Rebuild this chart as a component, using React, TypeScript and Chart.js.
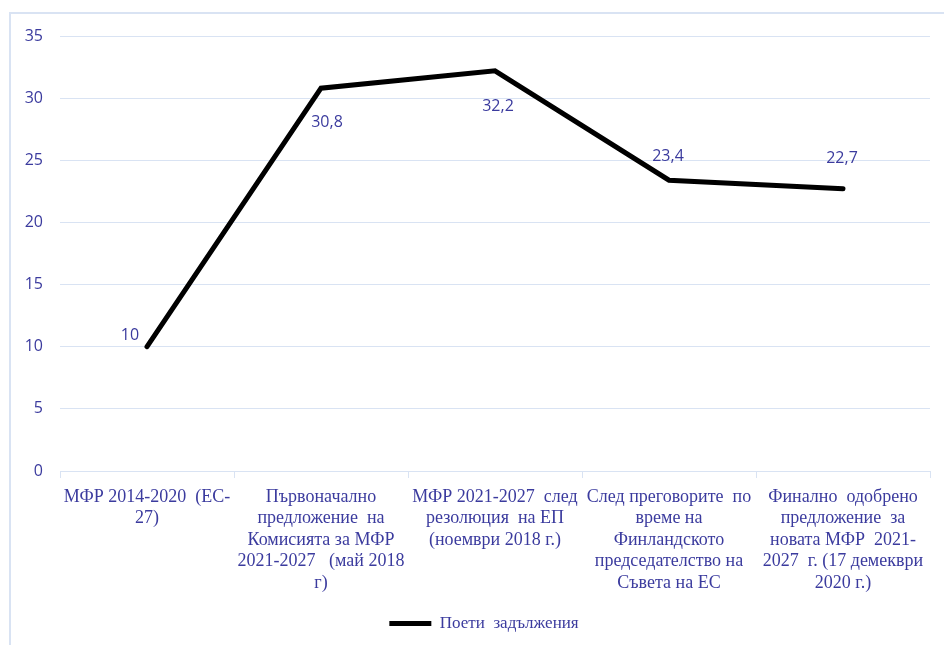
import React, { useEffect, useRef } from "react";
import { Chart, registerables } from "chart.js";

Chart.register(...registerables);

const CATEGORIES: string[][] = [
  ["МФР 2014-2020  (ЕС-", "27)"],
  ["Първоначално", "предложение  на", "Комисията за МФР", "2021-2027   (май 2018", "г)"],
  ["МФР 2021-2027  след", "резолюция  на ЕП", "(ноември 2018 г.)"],
  ["След преговорите  по", "време на", "Финландското", "председателство на", "Съвета на ЕС"],
  ["Финално  одобрено", "предложение  за", "новата МФР  2021-", "2027  г. (17 демекври", "2020 г.)"],
];
const SERIES_NAME = "Поети  задължения";
const VALUES: number[] = [10, 30.8, 32.2, 23.4, 22.7];
const Y_MIN = 0;
const Y_MAX = 35;
const Y_STEP = 5;

// style: data label offsets (px) relative to each point, Excel-like placement
const LABEL_OFFSETS: [number, number][] = [
  [-17, -11],
  [6, 34],
  [3, 36],
  [-1, -24],
  [-1, -30],
];

const TEXT_COLOR = "#3b3b9e";
const GRID_COLOR = "#d9e3f3";
const SANS = "'Open Sans', Lato, sans-serif";
const SERIF = "'Liberation Serif', 'DejaVu Serif', serif";

const dataLabels = {
  id: "dataLabels",
  afterDatasetsDraw(chart: any) {
    const ctx = chart.ctx;
    const meta = chart.getDatasetMeta(0);
    const data = chart.data.datasets[0].data as number[];
    ctx.save();
    ctx.font = `16px ${SANS}`;
    ctx.fillStyle = TEXT_COLOR;
    ctx.textAlign = "center";
    ctx.textBaseline = "middle";
    meta.data.forEach((pt: any, i: number) => {
      const off = LABEL_OFFSETS[i] || [0, -20];
      ctx.fillText(String(data[i]).replace(".", ","), pt.x + off[0], pt.y + off[1]);
    });
    ctx.restore();
  },
};

// center the legend under the plot region rather than the whole canvas
const legendShift = {
  id: "legendShift",
  afterLayout(chart: any) {
    const lg = chart.legend;
    if (lg) {
      lg.left = 38;
    }
  },
};

export default function App() {
  const canvasRef = useRef<HTMLCanvasElement | null>(null);

  useEffect(() => {
    if (!canvasRef.current) return;
    const chart = new Chart(canvasRef.current, {
      type: "line",
      data: {
        labels: CATEGORIES,
        datasets: [
          {
            label: SERIES_NAME,
            data: VALUES,
            borderColor: "#000000",
            backgroundColor: "#000000",
            borderWidth: 5,
            pointRadius: 0,
            pointHoverRadius: 0,
            tension: 0,
            fill: false,
            borderCapStyle: "round",
            borderJoinStyle: "miter",
          },
        ],
      },
      options: {
        responsive: false,
        animation: false,
        devicePixelRatio: 1,
        layout: { padding: { top: 36, right: 14, left: 0, bottom: 3 } },
        plugins: {
          tooltip: { enabled: false },
          legend: {
            position: "bottom",
            labels: {
              usePointStyle: true,
              pointStyle: "line",
              pointStyleWidth: 42,
              color: TEXT_COLOR,
              font: { family: SERIF, size: 17 },
              padding: 10,
            },
          },
        },
        scales: {
          x: {
            type: "category",
            offset: true,
            grid: {
              offset: true,
              drawOnChartArea: false,
              drawTicks: true,
              tickLength: 7,
              color: GRID_COLOR,
            },
            border: { display: true, color: GRID_COLOR, width: 1 },
            ticks: {
              color: TEXT_COLOR,
              font: { family: SERIF, size: 18, lineHeight: 1.2 },
              padding: 8,
              maxRotation: 0,
              minRotation: 0,
              autoSkip: false,
            },
            afterFit(scale: any) {
              scale.height = 134;
            },
          },
          y: {
            min: Y_MIN,
            max: Y_MAX,
            ticks: {
              stepSize: Y_STEP,
              color: TEXT_COLOR,
              font: { family: SANS, size: 16 },
              padding: 17,
            },
            grid: { color: GRID_COLOR, drawTicks: false, lineWidth: 1 },
            border: { display: false },
            afterFit(scale: any) {
              scale.width = 60;
            },
          },
        },
      },
      plugins: [dataLabels, legendShift],
    });
    return () => chart.destroy();
  }, []);

  return (
    <div style={{ position: "fixed", left: 0, top: 0, width: 944, height: 645, background: "#fff", overflow: "hidden" }}>
      <div
        style={{
          position: "absolute",
          left: 9,
          top: 12,
          width: 940,
          height: 640,
          borderTop: `2px solid ${GRID_COLOR}`,
          borderLeft: `2px solid ${GRID_COLOR}`,
          boxSizing: "border-box",
        }}
      />
      <canvas
        ref={canvasRef}
        width={944}
        height={645}
        style={{ position: "absolute", left: 0, top: 0, width: 944, height: 645 }}
      />
    </div>
  );
}
